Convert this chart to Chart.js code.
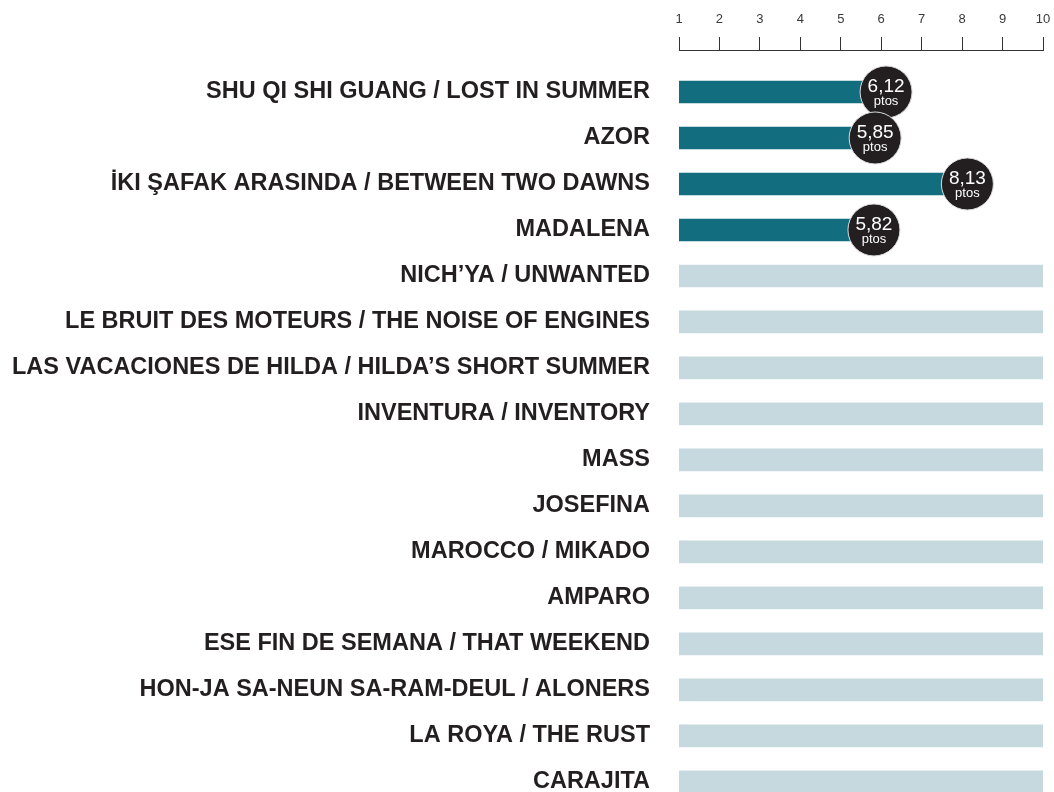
<!DOCTYPE html>
<html>
<head>
<meta charset="utf-8">
<script src="https://cdn.jsdelivr.net/npm/chart.js@4"></script>
<style>
  html, body { margin: 0; padding: 0; background: #fff; overflow: hidden; }
  #wrap { width: 1054px; height: 792px; position: relative; }
</style>
</head>
<body>
<div id="wrap"><canvas id="filmChart"></canvas></div>
<script>
const films = [
  'SHU QI SHI GUANG / LOST IN SUMMER',
  'AZOR',
  'İKI ŞAFAK ARASINDA / BETWEEN TWO DAWNS',
  'MADALENA',
  'NICH\u2019YA / UNWANTED',
  'LE BRUIT DES MOTEURS / THE NOISE OF ENGINES',
  'LAS VACACIONES DE HILDA / HILDA\u2019S SHORT SUMMER',
  'INVENTURA / INVENTORY',
  'MASS',
  'JOSEFINA',
  'MAROCCO / MIKADO',
  'AMPARO',
  'ESE FIN DE SEMANA / THAT WEEKEND',
  'HON-JA SA-NEUN SA-RAM-DEUL / ALONERS',
  'LA ROYA / THE RUST',
  'CARAJITA'
];
// puntuaciones (null = sin puntuar todavía)
const scores = [6.12, 5.85, 8.13, 5.82, null, null, null, null, null, null, null, null, null, null, null, null];
const scaleTicks = [1, 2, 3, 4, 5, 6, 7, 8, 9, 10];
const scaleMax = 10;

const scoredData = [];
const pendingData = [];
scores.forEach((v, i) => {
  if (v === null) pendingData.push({ x: scaleMax, y: i });
  else scoredData.push({ x: v, y: i });
});

const bubbleLabels = {
  id: 'bubbleLabels',
  afterDatasetsDraw(chart) {
    const ctx = chart.ctx;
    const meta = chart.getDatasetMeta(0);
    meta.data.forEach((bar, j) => {
      const val = scoredData[j].x;
      ctx.save();
      ctx.beginPath();
      ctx.arc(bar.x, bar.y, 26, 0, Math.PI * 2);
      ctx.fillStyle = '#231f20';
      ctx.fill();
      ctx.lineWidth = 1;
      ctx.strokeStyle = '#dcdcdc';
      ctx.stroke();
      ctx.fillStyle = '#fff';
      ctx.textAlign = 'center';
      ctx.textBaseline = 'alphabetic';
      ctx.font = '19px "Liberation Sans", Arial, sans-serif';
      ctx.fillText(val.toFixed(2).replace('.', ','), bar.x, bar.y + 0.5);
      ctx.font = '13px "Liberation Sans", Arial, sans-serif';
      ctx.fillText('ptos', bar.x, bar.y + 13.5);
      ctx.restore();
    });
  }
};

const ctx = document.getElementById('filmChart').getContext('2d');
const filmChart = new Chart(ctx, {
  type: 'bar',
  data: {
    datasets: [{
      label: 'Puntuación',
      data: scoredData,
      backgroundColor: '#126d7f',
      barThickness: 22,
      grouped: false
    }, {
      label: 'Pendiente',
      data: pendingData,
      backgroundColor: '#c5d9df',
      barThickness: 22,
      grouped: false
    }]
  },
  options: {
    indexAxis: 'y',
    responsive: true,
    maintainAspectRatio: false,
    animation: false,
    layout: { padding: { top: 0, right: 11, bottom: 0, left: 0 } },
    plugins: {
      legend: { display: false },
      tooltip: { enabled: false }
    },
    scales: {
      x: {
        type: 'linear',
        position: 'top',
        min: 1,
        max: scaleMax,
        afterBuildTicks: (scale) => { scale.ticks = scaleTicks.map(v => ({ value: v })); },
        afterFit: (scale) => {
          scale.height = 50;
          scale.paddingLeft = 0;
          scale.paddingRight = 0;
        },
        ticks: {
          color: '#3a3a3a',
          padding: 10,
          maxRotation: 0,
          font: { family: '"Liberation Sans", Arial, sans-serif', size: 13 }
        },
        grid: {
          drawOnChartArea: false,
          tickLength: 13,
          color: '#333',
          lineWidth: 1
        },
        border: { display: true, color: '#333', width: 1 }
      },
      y: {
        type: 'linear',
        reverse: true,
        offset: false,
        min: -0.913,
        max: 15.22,
        afterBuildTicks: (scale) => { scale.ticks = films.map((f, i) => ({ value: i })); },
        afterFit: (scale) => {
          scale.width = 679;
          scale.paddingTop = 0;
          scale.paddingBottom = 0;
        },
        ticks: {
          autoSkip: false,
          padding: 29,
          color: '#231f20',
          font: { family: '"Liberation Sans", Arial, sans-serif', size: 23.5, weight: 'bold' },
          callback: (v) => films[v]
        },
        grid: { display: false, drawTicks: false, tickLength: 0 },
        border: { display: false }
      }
    }
  },
  plugins: [bubbleLabels]
});
</script>
</body>
</html>
